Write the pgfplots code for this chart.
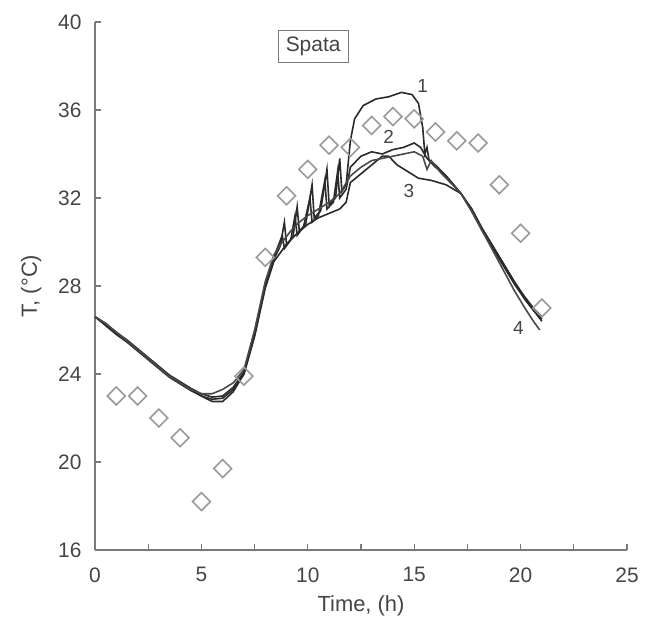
\documentclass[border=0pt]{standalone}
\usepackage{fontspec}
\setmainfont{Liberation Sans}
\usepackage{pgfplots}
\pgfplotsset{compat=1.18}
\definecolor{axgray}{HTML}{7A7A7A}
\definecolor{txtgray}{HTML}{454545}
\definecolor{mkgray}{HTML}{9A9A9A}
\definecolor{crv}{HTML}{2A2A2A}

\begin{document}
\begin{tikzpicture}[x=1bp,y=1bp]
\useasboundingbox[fill=white] (-95,-84) rectangle (553,550);
\begin{axis}[
    at={(0,0)}, anchor=south west,
    scale only axis,
    width=532bp, height=528bp,
    xmin=0, xmax=25, ymin=16, ymax=40,
    axis x line*=bottom, axis y line*=left,
    axis line style={axgray, line width=1.4pt},
    xtick={0,5,...,25}, minor xtick={2.5,7.5,...,22.5},
    ytick={16,20,...,40},
    tick align=inside,
    major tick length=6bp, minor tick length=6bp,
    tick style={axgray, line width=1.2pt},
    ticklabel style={font=\fontsize{21}{21}\selectfont, text=txtgray},
    /pgf/number format/assume math mode=true,
    xticklabel style={yshift=-14bp},
    yticklabel style={xshift=-10bp},
    xlabel={Time, (h)}, ylabel={T, (°C)},
    label style={font=\fontsize{22}{22}\selectfont, text=txtgray},
    xlabel style={yshift=-6bp},
    ylabel style={yshift=10bp},
    clip=false,
]
% measurements
\addplot[only marks, mark=square, mark size=6.3bp, mkgray, line width=1.6pt,
  every mark/.append style={rotate=45}] coordinates {
(1,23.0) (2,23.0) (3,22.0) (4,21.1) (5,18.2) (6,19.7) (7,23.9) (8,29.3)
(9,32.1) (10,33.3) (11,34.4) (12,34.3) (13,35.3) (14,35.7) (15,35.6)
(16,35.0) (17,34.6) (18,34.5) (19,32.6) (20,30.4) (21,27.0)};
% curve 1
\addplot[crv, line width=1.6pt] coordinates {
(0,26.6) (0.5,26.25) (1,25.85) (1.5,25.5) (2,25.1) (2.5,24.7) (3,24.3)
(3.5,23.9) (4,23.6) (4.5,23.3) (5,23.0) (5.5,22.75) (6,22.75) (6.5,23.2)
(7,24.0) (7.5,25.8) (8,28.0) (8.4,29.2) (8.7,29.8) (8.9,30.9) (9.0,29.9)
(9.3,30.2) (9.5,31.6) (9.6,30.5) (9.9,30.8) (10.2,32.6) (10.3,31.1)
(10.6,31.4) (10.9,33.3) (11.0,31.7) (11.3,32.0) (11.5,33.8) (11.6,32.3)
(11.8,32.6) (12.0,34.6) (12.2,35.6) (12.6,36.2) (13.2,36.5) (13.8,36.6)
(14.4,36.8) (14.9,36.7) (15.2,36.3) (15.4,35.2) (15.5,34.0) (15.6,34.3)
(15.7,33.7) (16,33.4) (16.5,33.0) (17.2,32.2) (17.7,31.4) (18.2,30.5)
(18.7,29.7) (19.2,28.9) (19.7,28.1) (20.2,27.4) (20.6,26.9) (21.0,26.4)};
% curve 2
\addplot[crv, line width=1.6pt] coordinates {
(0,26.6) (0.5,26.3) (1,25.9) (1.5,25.55) (2,25.15) (2.5,24.75) (3,24.35)
(3.5,23.95) (4,23.65) (4.5,23.35) (5,23.1) (5.5,22.95) (6,23.0) (6.5,23.4)
(7,24.1) (7.5,25.9) (8,28.1) (8.4,29.3) (8.8,30.3) (8.9,29.7) (9.2,30.1)
(9.4,31.2) (9.5,30.3) (9.8,30.7) (10.1,32.0) (10.2,30.9) (10.5,31.2)
(10.8,32.8) (10.9,31.5) (11.2,31.8) (11.4,33.2) (11.5,32.0) (11.8,32.4)
(12.0,33.4) (12.5,33.9) (13.0,34.1) (13.5,34.0) (14.0,34.2) (14.5,34.3)
(15.0,34.5) (15.3,34.3) (15.6,33.8) (16,33.5) (16.5,33.0) (17.2,32.2)
(17.7,31.5) (18.2,30.6) (18.7,29.8) (19.2,29.0) (19.7,28.2) (20.2,27.4)
(20.6,26.9) (21.0,26.5)};
% curve 3
\addplot[crv, line width=1.6pt] coordinates {
(0,26.6) (0.5,26.2) (1,25.8) (1.5,25.45) (2,25.05) (2.5,24.65) (3,24.25)
(3.5,23.85) (4,23.55) (4.5,23.25) (5,23.0) (5.5,22.85) (6,22.9) (6.5,23.3)
(7,24.0) (7.5,25.7) (8,27.9) (8.4,29.1) (9,29.9) (9.5,30.4) (10,30.8)
(10.5,31.1) (11,31.3) (11.5,31.5) (11.8,31.8) (12.0,32.7) (12.5,33.1)
(13.0,33.5) (13.5,33.9) (13.8,33.9) (14.2,33.5) (14.7,33.2) (15.2,32.9)
(15.8,32.8) (16.5,32.6) (17.2,32.2) (17.7,31.5) (18.2,30.6) (18.7,29.8)
(19.2,29.0) (19.7,28.2) (20.2,27.5) (20.6,27.0) (21.0,26.6)};
% curve 4
\addplot[crv!85, line width=1.6pt] coordinates {
(0,26.6) (0.5,26.3) (1,25.9) (1.5,25.5) (2,25.1) (2.5,24.7) (3,24.3)
(3.5,23.9) (4,23.6) (4.5,23.3) (5,23.1) (5.5,23.1) (6,23.3) (6.5,23.6)
(7,24.2) (7.5,26.0) (8,28.2) (8.4,29.4) (8.8,30.0) (9.2,30.5) (9.6,30.9)
(10,31.2) (10.5,31.5) (11,31.8) (11.5,32.2) (12,33.0) (12.5,33.4)
(13,33.7) (14,33.9) (15,34.1) (15.4,33.9) (15.6,33.3) (15.8,33.7)
(16.2,33.2) (17.2,32.2) (17.7,31.4) (18.2,30.5) (18.7,29.6) (19.2,28.7)
(19.7,27.8) (20.2,27.0) (20.6,26.4) (20.9,26.0)};
% labels
\node[text=txtgray, font=\fontsize{19}{19}\selectfont] at (axis cs:15.4,37.1) {1};
\node[text=txtgray, font=\fontsize{19}{19}\selectfont] at (axis cs:13.8,34.8) {2};
\node[text=txtgray, font=\fontsize{19}{19}\selectfont] at (axis cs:14.75,32.3) {3};
\node[text=txtgray, font=\fontsize{19}{19}\selectfont] at (axis cs:19.9,26.1) {4};
\node[draw=axgray, line width=1.2pt, fill=white, text=txtgray,
  font=\fontsize{21}{21}\selectfont, minimum width=70bp, minimum height=32bp]
  at (axis cs:10.25,38.9) {Spata};
\end{axis}
\end{tikzpicture}
\end{document}
